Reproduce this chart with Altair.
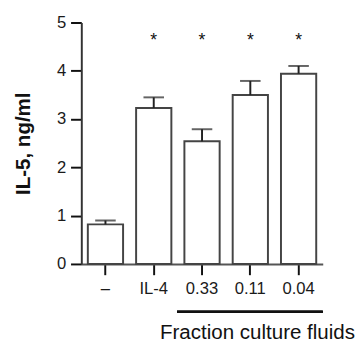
import altair as alt
import pandas as pd

categories = ["–", "IL-4", "0.33", "0.11", "0.04"]
means = [0.82, 3.23, 2.54, 3.50, 3.94]
errors = [0.08, 0.22, 0.25, 0.29, 0.16]
significant = [False, True, True, True, True]
star_level = 4.52

df = pd.DataFrame({
    "cat": categories,
    "mean": means,
    "top": [m + e for m, e in zip(means, errors)],
    "sig": significant,
})
df["star_y"] = star_level

FONT = "Liberation Sans"

xenc = alt.X(
    "cat:N", sort=categories,
    scale=alt.Scale(paddingInner=0, paddingOuter=0),
    axis=alt.Axis(
        title="Fraction culture fluids", labelAngle=0, labelFontSize=17,
        labelFont=FONT, labelColor="#1a1a1a", labelPadding=6,
        tickSize=11, tickWidth=2, tickColor="#111",
        domainColor="#555", domainWidth=2,
        titleFont=FONT, titleFontSize=21, titleFontWeight="normal",
        titleColor="#111", titleAlign="left", titleAnchor="start",
        titleBaseline="alphabetic", titleX=80, titleY=76,
    ),
)

yscale = alt.Scale(domain=[0, 5], nice=False)

base = alt.Chart(df).encode(x=xenc)

bars = base.mark_bar(
    fill="white", stroke="#444", strokeWidth=2,
    width=alt.RelativeBandSize(0.73),
).encode(
    y=alt.Y(
        "mean:Q", scale=yscale,
        axis=alt.Axis(
            title="IL-5, ng/ml", values=[0, 1, 2, 3, 4, 5], grid=False,
            labelFontSize=17, labelFont=FONT, labelColor="#1a1a1a",
            labelPadding=5, tickSize=11, tickWidth=2, tickColor="#111",
            domainColor="#333", domainWidth=2,
            titleFont=FONT, titleFontSize=21, titleFontWeight="bold",
            titleColor="#111", titleAngle=270, titleBaseline="alphabetic",
            titleX=-53, titleY=123.5, titleAlign="center",
        ),
    )
)

err = base.mark_rule(strokeWidth=2, color="#222").encode(
    y=alt.Y("mean:Q", scale=yscale), y2="top:Q"
)

caps = base.mark_tick(size=21, thickness=2, color="#222").encode(
    y=alt.Y("top:Q", scale=yscale)
)

stars = base.transform_filter("datum.sig").mark_text(
    text="*", fontSize=18, font=FONT, color="#111", baseline="alphabetic"
).encode(y=alt.Y("star_y:Q", scale=yscale))

bracket = alt.Chart(df).mark_rule(strokeWidth=2, color="#111").encode(
    x=alt.value(98), x2=alt.value(247), y=alt.value(296)
)

chart = alt.layer(bars, err, caps, stars, bracket).properties(
    width=247, height=247,
    autosize=alt.AutoSizeParams(type="none"),
    padding={"left": 75, "top": 11, "right": 33, "bottom": 76},
).configure_view(stroke=None)

chart.save("out.html", embed_options={"renderer": "svg", "actions": False})
